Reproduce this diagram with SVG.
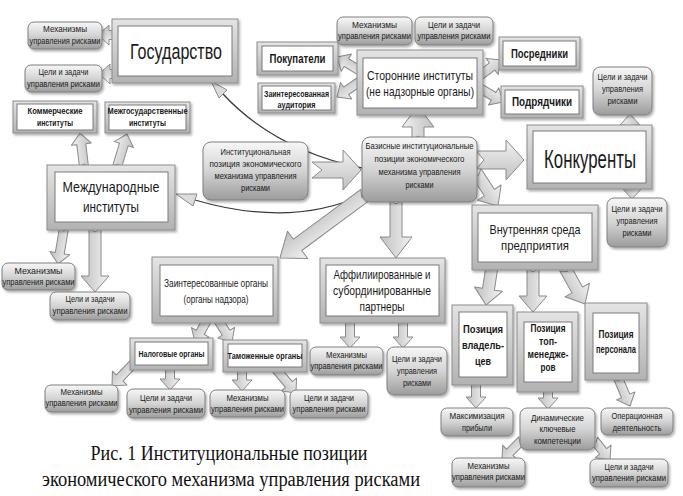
<svg xmlns="http://www.w3.org/2000/svg" width="683" height="496" viewBox="0 0 683 496">
<defs>
<linearGradient id="gf" x1="0" y1="0" x2="0" y2="1"><stop offset="0" stop-color="#e4e4e4"/><stop offset="1" stop-color="#b2b2b2"/></linearGradient>
<linearGradient id="gr" x1="0" y1="0" x2="0" y2="1"><stop offset="0" stop-color="#f7f7f7"/><stop offset="0.5" stop-color="#d4d4d4"/><stop offset="1" stop-color="#9c9c9c"/></linearGradient>
<linearGradient id="ga" x1="0" y1="0" x2="0" y2="1"><stop offset="0" stop-color="#f2f2f2"/><stop offset="1" stop-color="#c0c0c0"/></linearGradient>
<filter id="sh" x="-10%" y="-10%" width="130%" height="140%"><feDropShadow dx="1.5" dy="2" stdDeviation="1.2" flood-color="#000" flood-opacity="0.3"/></filter>
</defs>
<style>
.fo{fill:url(#gf);stroke:#8c8c8c;stroke-width:1;filter:url(#sh)}
.fi{fill:#fff;stroke:#7a7a7a;stroke-width:1}
.rb{fill:url(#gr);stroke:#7f7f7f;stroke-width:1;filter:url(#sh)}
.ar{fill:url(#ga);stroke:#8a8a8a;stroke-width:1;stroke-linejoin:round}
.cv{fill:none;stroke:#3a3a3a;stroke-width:1.3}
.ah{fill:#dcdcdc;stroke:#8a8a8a;stroke-width:1}
text{font-family:"Liberation Sans",Arial,sans-serif;fill:#1a1a1a;text-anchor:middle}
.s{font-size:9px}
.b{font-weight:bold}
.cap{font-family:"Liberation Serif","Times New Roman",serif;font-size:20px;fill:#111}
</style>
<rect width="683" height="496" fill="#fff"/>

<g id="connectors">
<path class="cv" d="M362,168 Q275,150 223,94"/>
<polygon class="ah" points="211,81 227,90 219,98"/>
<path class="cv" d="M363,195 Q290,228 195,200"/>
<polygon class="ah" points="176,194 197,194 193,206"/>

<path class="ar" transform="translate(120,35) rotate(180)" d="M0,-4.5H11V-10L22,0L11,10V4.5H0L3,0Z"/>
<path class="ar" transform="translate(120,74) rotate(180)" d="M0,-4.5H10V-10L21,0L10,10V4.5H0L3,0Z"/>
<path class="ar" transform="translate(84,167) rotate(-96.7)" d="M0,-4.5H23V-10L34,0L23,10V4.5H0L3,0Z"/>
<path class="ar" transform="translate(117,167) rotate(-73.1)" d="M0,-4.5H23.5V-10L34.5,0L23.5,10V4.5H0L3,0Z"/>
<path class="ar" transform="translate(64,228) rotate(99.5)" d="M0,-4.5H25.5V-10L36.5,0L25.5,10V4.5H0L3,0Z"/>
<path class="ar" transform="translate(95,228) rotate(90)" d="M0,-6H48V-14L64,0L48,14V6H0L4,0Z"/>
<path class="ar" transform="translate(362,72) rotate(-149)" d="M0,-4.5H18.2V-10L29.2,0L18.2,10V4.5H0L3,0Z"/>
<path class="ar" transform="translate(362,80) rotate(145.8)" d="M0,-4.5H19.2V-10L30.2,0L19.2,10V4.5H0L3,0Z"/>
<path class="ar" transform="translate(478,77) rotate(-36.5)" d="M0,-4.5H17.6V-10L28.6,0L17.6,10V4.5H0L3,0Z"/>
<path class="ar" transform="translate(478,87) rotate(31)" d="M0,-4.5H18.2V-10L29.2,0L18.2,10V4.5H0L3,0Z"/>
<path class="ar" transform="translate(418,140) rotate(-90)" d="M0,-6H13V-16L34,0L13,16V6H0L4,0Z"/>
<path class="ar" transform="translate(312,170)" d="M0,-8H31V-20L49,0L31,20V8H0L10,0Z"/>
<path class="ar" transform="translate(476,160)" d="M0,-9H30V-20L48,0L30,20V9H0L8,0Z"/>
<path class="ar" transform="translate(476,172) rotate(57.1)" d="M0,-6H24.5V-14L40.5,0L24.5,14V6H0L4,0Z"/>
<path class="ar" transform="translate(365,195) rotate(143.5)" d="M0,-7H83.8V-17L105.8,0L83.8,17V7H0L4,0Z"/>
<path class="ar" transform="translate(396,200) rotate(90)" d="M0,-6H37V-16L58,0L37,16V6H0L4,0Z"/>
<path class="ar" transform="translate(630,132) rotate(-90)" d="M0,-4.5H7V-10L18,0L7,10V4.5H0L3,0Z"/>
<path class="ar" transform="translate(632,183) rotate(90)" d="M0,-4.5H5V-10L16,0L5,10V4.5H0L3,0Z"/>
<path class="ar" transform="translate(492,266) rotate(98.7)" d="M0,-6H23.5V-14L39.5,0L23.5,14V6H0L4,0Z"/>
<path class="ar" transform="translate(533,268) rotate(90)" d="M0,-6H28V-14L44,0L28,14V6H0L4,0Z"/>
<path class="ar" transform="translate(565,268) rotate(60.9)" d="M0,-6H25.2V-14L41.2,0L25.2,14V6H0L4,0Z"/>
<path class="ar" transform="translate(476,380) rotate(90)" d="M0,-4.5H17V-10L28,0L17,10V4.5H0L3,0Z"/>
<path class="ar" transform="translate(548,387) rotate(90)" d="M0,-4.5H11V-10L22,0L11,10V4.5H0L3,0Z"/>
<path class="ar" transform="translate(618,378) rotate(66.8)" d="M0,-4.5H19.5V-10L30.5,0L19.5,10V4.5H0L3,0Z"/>
<path class="ar" transform="translate(522,440) rotate(135)" d="M0,-4.5H17.3V-10L28.3,0L17.3,10V4.5H0L3,0Z"/>
<path class="ar" transform="translate(594,440) rotate(51.3)" d="M0,-4.5H14.6V-10L25.6,0L14.6,10V4.5H0L3,0Z"/>
<path class="ar" transform="translate(207,320) rotate(118.6)" d="M0,-4.5H14.1V-10L25.1,0L14.1,10V4.5H0L3,0Z"/>
<path class="ar" transform="translate(218,320) rotate(57.5)" d="M0,-4.5H15.1V-10L26.1,0L15.1,10V4.5H0L3,0Z"/>
<path class="ar" transform="translate(135,362) rotate(133.8)" d="M0,-4.5H22.2V-10L33.2,0L22.2,10V4.5H0L3,0Z"/>
<path class="ar" transform="translate(170,366) rotate(90)" d="M0,-4.5H13V-10L24,0L13,10V4.5H0L3,0Z"/>
<path class="ar" transform="translate(242,368) rotate(90)" d="M0,-4.5H12V-10L23,0L12,10V4.5H0L3,0Z"/>
<path class="ar" transform="translate(275,368) rotate(50)" d="M0,-4.5H21.6V-10L32.6,0L21.6,10V4.5H0L3,0Z"/>
<path class="ar" transform="translate(350,320) rotate(90)" d="M0,-4.5H17V-10L28,0L17,10V4.5H0L3,0Z"/>
<path class="ar" transform="translate(403,320) rotate(90)" d="M0,-4.5H17V-10L28,0L17,10V4.5H0L3,0Z"/>
</g>

<g id="gosudarstvo"><rect class="fo" x="112" y="19" width="126" height="64"/><rect class="fi" x="118" y="26" width="114" height="50"/>
<text x="176" y="59" font-size="22" textLength="92" lengthAdjust="spacingAndGlyphs">Государство</text></g>
<g id="gos-mech"><rect class="rb" x="28" y="22" width="74" height="27" rx="6"/>
<text class="s" x="65" y="32" textLength="44" lengthAdjust="spacingAndGlyphs">Механизмы</text>
<text class="s" x="65" y="44" textLength="71" lengthAdjust="spacingAndGlyphs">управления рисками</text></g>
<g id="gos-goals"><rect class="rb" x="25" y="65" width="77" height="27" rx="6"/>
<text class="s" x="63.5" y="75" textLength="50" lengthAdjust="spacingAndGlyphs">Цели и задачи</text>
<text class="s" x="63.5" y="87" textLength="73" lengthAdjust="spacingAndGlyphs">управления рисками</text></g>

<g id="kommercheskie"><rect class="fo" x="13" y="101" width="84" height="32"/><rect class="fi" x="17" y="104" width="76" height="26"/>
<text class="s b" x="55" y="114" textLength="55" lengthAdjust="spacingAndGlyphs">Коммерческие</text>
<text class="s b" x="55" y="126" textLength="36" lengthAdjust="spacingAndGlyphs">институты</text></g>
<g id="mezhgos"><rect class="fo" x="105" y="102" width="85" height="31"/><rect class="fi" x="109" y="105" width="77" height="25"/>
<text class="s b" x="147.5" y="114" textLength="80" lengthAdjust="spacingAndGlyphs">Межгосударственные</text>
<text class="s b" x="147.5" y="126" textLength="37" lengthAdjust="spacingAndGlyphs">институты</text></g>

<g id="mezhdunarodnye"><rect class="fo" x="47" y="165" width="128" height="65"/><rect class="fi" x="55" y="172" width="113" height="50"/>
<text x="111" y="192" font-size="15" textLength="97" lengthAdjust="spacingAndGlyphs">Международные</text>
<text x="111" y="212" font-size="15" textLength="56" lengthAdjust="spacingAndGlyphs">институты</text></g>
<g id="mezhd-mech"><rect class="rb" x="2" y="263" width="73" height="27" rx="6"/>
<text class="s" x="38.5" y="274" textLength="48" lengthAdjust="spacingAndGlyphs">Механизмы</text>
<text class="s" x="38.5" y="285" textLength="72" lengthAdjust="spacingAndGlyphs">управления рисками</text></g>
<g id="mezhd-goals"><rect class="rb" x="50" y="292" width="80" height="28" rx="6"/>
<text class="s" x="90" y="302" textLength="49" lengthAdjust="spacingAndGlyphs">Цели и задачи</text>
<text class="s" x="90" y="314" textLength="75" lengthAdjust="spacingAndGlyphs">управления рисками</text></g>

<g id="pokupateli"><rect class="fo" x="257" y="42" width="81" height="33"/><rect class="fi" x="262" y="46" width="71" height="25"/>
<text class="b" x="297.5" y="63" font-size="12" textLength="56" lengthAdjust="spacingAndGlyphs">Покупатели</text></g>
<g id="auditoriya"><rect class="fo" x="258" y="83" width="77" height="30"/><rect class="fi" x="262" y="86" width="69" height="24"/>
<text class="b" x="296.5" y="97" font-size="9.5" textLength="65" lengthAdjust="spacingAndGlyphs">Заинтересованная</text>
<text class="b" x="296.5" y="108" font-size="9.5" textLength="38" lengthAdjust="spacingAndGlyphs">аудитория</text></g>
<g id="storonnie"><rect class="fo" x="357" y="50" width="126" height="65"/><rect class="fi" x="363" y="58" width="114" height="50"/>
<text x="420" y="80" font-size="13" textLength="106" lengthAdjust="spacingAndGlyphs">Сторонние институты</text>
<text x="420" y="96" font-size="13" textLength="108" lengthAdjust="spacingAndGlyphs">(не надзорные органы)</text></g>
<g id="stor-mech"><rect class="rb" x="337" y="17" width="75" height="28" rx="6"/>
<text class="s" x="374.5" y="28" textLength="45" lengthAdjust="spacingAndGlyphs">Механизмы</text>
<text class="s" x="374.5" y="39" textLength="73" lengthAdjust="spacingAndGlyphs">управления рисками</text></g>
<g id="stor-goals"><rect class="rb" x="415" y="17" width="78" height="28" rx="6"/>
<text class="s" x="454" y="28" textLength="52" lengthAdjust="spacingAndGlyphs">Цели и задачи</text>
<text class="s" x="454" y="39" textLength="73" lengthAdjust="spacingAndGlyphs">управления рисками</text></g>
<g id="posredniki"><rect class="fo" x="499" y="37" width="81" height="33"/><rect class="fi" x="503" y="41" width="73" height="25"/>
<text class="b" x="539.5" y="58" font-size="12" textLength="57" lengthAdjust="spacingAndGlyphs">Посредники</text></g>
<g id="podryadchiki"><rect class="fo" x="501" y="86" width="82" height="32"/><rect class="fi" x="505" y="90" width="74" height="24"/>
<text class="b" x="542" y="106" font-size="12" textLength="60" lengthAdjust="spacingAndGlyphs">Подрядчики</text></g>

<g id="konkurenty"><rect class="fo" x="527" y="125" width="125" height="64"/><rect class="fi" x="533" y="131" width="113" height="52"/>
<text x="590" y="168" font-size="25" textLength="92" lengthAdjust="spacingAndGlyphs">Конкуренты</text></g>
<g id="konk-goals-top"><rect class="rb" x="593" y="67" width="59" height="48" rx="7"/>
<text class="s" x="622.5" y="80" textLength="50" lengthAdjust="spacingAndGlyphs">Цели и задачи</text>
<text class="s" x="622.5" y="92" textLength="41" lengthAdjust="spacingAndGlyphs">управления</text>
<text class="s" x="622.5" y="104" textLength="30" lengthAdjust="spacingAndGlyphs">рисками</text></g>
<g id="konk-goals-bottom"><rect class="rb" x="607" y="198" width="60" height="49" rx="7"/>
<text class="s" x="637" y="212" textLength="51" lengthAdjust="spacingAndGlyphs">Цели и задачи</text>
<text class="s" x="637" y="224" textLength="41" lengthAdjust="spacingAndGlyphs">управления</text>
<text class="s" x="637" y="236" textLength="29" lengthAdjust="spacingAndGlyphs">рисками</text></g>

<g id="institucionalnaya"><rect class="rb" x="203" y="142" width="105" height="58" rx="8"/>
<text class="s" x="255.5" y="155" textLength="70" lengthAdjust="spacingAndGlyphs">Институциональная</text>
<text class="s" x="255.5" y="167" textLength="92" lengthAdjust="spacingAndGlyphs">позиция  экономического</text>
<text class="s" x="255.5" y="179" textLength="82" lengthAdjust="spacingAndGlyphs">механизма управления</text>
<text class="s" x="255.5" y="191" textLength="29" lengthAdjust="spacingAndGlyphs">рисками</text></g>
<g id="bazisnye"><rect class="rb" x="362" y="137" width="115" height="65" rx="8"/>
<text class="s" x="419.5" y="149" textLength="108" lengthAdjust="spacingAndGlyphs">Базисные институциональные</text>
<text class="s" x="419.5" y="162" textLength="90" lengthAdjust="spacingAndGlyphs">позиции  экономического</text>
<text class="s" x="419.5" y="175" textLength="82" lengthAdjust="spacingAndGlyphs">механизма управления</text>
<text class="s" x="419.5" y="188" textLength="28" lengthAdjust="spacingAndGlyphs">рисками</text></g>

<g id="zainteresovannye"><rect class="fo" x="152" y="257" width="126" height="66"/><rect class="fi" x="160" y="265" width="113" height="51"/>
<text x="216" y="287" font-size="11.5" textLength="104" lengthAdjust="spacingAndGlyphs">Заинтересованные органы</text>
<text x="216" y="303" font-size="11.5" textLength="65" lengthAdjust="spacingAndGlyphs">(органы надзора)</text></g>
<g id="nalogovye"><rect class="fo" x="130" y="338" width="83" height="32"/><rect class="fi" x="135" y="342" width="73" height="23"/>
<text class="s b" x="171.5" y="357" textLength="66" lengthAdjust="spacingAndGlyphs">Налоговые органы</text></g>
<g id="tamozhennye"><rect class="fo" x="223" y="340" width="84" height="32"/><rect class="fi" x="228" y="344" width="74" height="23"/>
<text class="s b" x="265" y="359" textLength="75" lengthAdjust="spacingAndGlyphs">Таможенные органы</text></g>
<g id="nalog-mech"><rect class="rb" x="45" y="385" width="73" height="27" rx="6"/>
<text class="s" x="81.5" y="395" textLength="42" lengthAdjust="spacingAndGlyphs">Механизмы</text>
<text class="s" x="81.5" y="406" textLength="72" lengthAdjust="spacingAndGlyphs">управления рисками</text></g>
<g id="nalog-goals"><rect class="rb" x="127" y="389" width="78" height="29" rx="6"/>
<text class="s" x="166" y="401" textLength="52" lengthAdjust="spacingAndGlyphs">Цели и задачи</text>
<text class="s" x="166" y="413" textLength="74" lengthAdjust="spacingAndGlyphs">управления рисками</text></g>
<g id="tamozh-mech"><rect class="rb" x="210" y="390" width="75" height="27" rx="6"/>
<text class="s" x="247.5" y="401" textLength="42" lengthAdjust="spacingAndGlyphs">Механизмы</text>
<text class="s" x="247.5" y="412" textLength="73" lengthAdjust="spacingAndGlyphs">управления рисками</text></g>
<g id="tamozh-goals"><rect class="rb" x="290" y="390" width="78" height="28" rx="6"/>
<text class="s" x="329" y="401" textLength="50" lengthAdjust="spacingAndGlyphs">Цели и задачи</text>
<text class="s" x="329" y="412" textLength="73" lengthAdjust="spacingAndGlyphs">управления рисками</text></g>

<g id="affiliirovannye"><rect class="fo" x="320" y="258" width="125" height="65"/><rect class="fi" x="326" y="265" width="113" height="51"/>
<text x="382" y="279" font-size="13" textLength="97" lengthAdjust="spacingAndGlyphs">Аффилиированные и</text>
<text x="382" y="295" font-size="13" textLength="98" lengthAdjust="spacingAndGlyphs">субординированные</text>
<text x="382" y="311" font-size="13" textLength="45" lengthAdjust="spacingAndGlyphs">партнеры</text></g>
<g id="affil-mech"><rect class="rb" x="310" y="347" width="73" height="28" rx="6"/>
<text class="s" x="346.5" y="358" textLength="41" lengthAdjust="spacingAndGlyphs">Механизмы</text>
<text class="s" x="346.5" y="369" textLength="72" lengthAdjust="spacingAndGlyphs">управления рисками</text></g>
<g id="affil-goals"><rect class="rb" x="387" y="347" width="60" height="48" rx="7"/>
<text class="s" x="417" y="362" textLength="50" lengthAdjust="spacingAndGlyphs">Цели и задачи</text>
<text class="s" x="417" y="374" textLength="40" lengthAdjust="spacingAndGlyphs">управления</text>
<text class="s" x="417" y="386" textLength="28" lengthAdjust="spacingAndGlyphs">рисками</text></g>

<g id="vnutrennyaya"><rect class="fo" x="472" y="205" width="126" height="65"/><rect class="fi" x="478" y="213" width="114" height="49"/>
<text x="535" y="234" font-size="13" textLength="91" lengthAdjust="spacingAndGlyphs">Внутренняя среда</text>
<text x="535" y="250" font-size="13" textLength="68" lengthAdjust="spacingAndGlyphs">предприятия</text></g>
<g id="vladelcy"><rect class="fo" x="452" y="305" width="61" height="80"/><rect class="fi" x="459" y="312" width="48" height="65"/>
<text class="b" x="483" y="333" font-size="11" textLength="40" lengthAdjust="spacingAndGlyphs">Позиция</text>
<text class="b" x="483" y="349" font-size="11" textLength="42" lengthAdjust="spacingAndGlyphs">владель-</text>
<text class="b" x="483" y="365" font-size="11" textLength="16" lengthAdjust="spacingAndGlyphs">цев</text></g>
<g id="top-menedzhery"><rect class="fo" x="517" y="312" width="61" height="80"/><rect class="fi" x="524" y="322" width="48" height="60"/>
<text class="b" x="548" y="332" font-size="10" textLength="35" lengthAdjust="spacingAndGlyphs">Позиция</text>
<text class="b" x="548" y="345" font-size="10" textLength="18" lengthAdjust="spacingAndGlyphs">топ-</text>
<text class="b" x="548" y="358" font-size="10" textLength="41" lengthAdjust="spacingAndGlyphs">менедже-</text>
<text class="b" x="548" y="371" font-size="10" textLength="15" lengthAdjust="spacingAndGlyphs">ров</text></g>
<g id="personal"><rect class="fo" x="585" y="303" width="62" height="77"/><rect class="fi" x="593" y="313" width="46" height="60"/>
<text class="b" x="616" y="338" font-size="10" textLength="35" lengthAdjust="spacingAndGlyphs">Позиция</text>
<text class="b" x="616" y="353" font-size="10" textLength="40" lengthAdjust="spacingAndGlyphs">персонала</text></g>
<g id="maksimizaciya"><rect class="rb" x="441" y="408" width="72" height="28" rx="6"/>
<text class="s" x="477" y="419" textLength="55" lengthAdjust="spacingAndGlyphs">Максимизация</text>
<text class="s" x="477" y="431" textLength="30" lengthAdjust="spacingAndGlyphs">прибыли</text></g>
<g id="dinamicheskie"><rect class="rb" x="520" y="408" width="75" height="42" rx="7"/>
<text class="s" x="557.5" y="421" textLength="53" lengthAdjust="spacingAndGlyphs">Динамические</text>
<text class="s" x="557.5" y="432" textLength="36" lengthAdjust="spacingAndGlyphs">ключевые</text>
<text class="s" x="557.5" y="444" textLength="47" lengthAdjust="spacingAndGlyphs">компетенции</text></g>
<g id="operacionnaya"><rect class="rb" x="601" y="408" width="72" height="27" rx="6"/>
<text class="s" x="637" y="419" textLength="51" lengthAdjust="spacingAndGlyphs">Операционная</text>
<text class="s" x="637" y="431" textLength="49" lengthAdjust="spacingAndGlyphs">деятельность</text></g>
<g id="vn-mech"><rect class="rb" x="452" y="458" width="73" height="29" rx="6"/>
<text class="s" x="488.5" y="469" textLength="42" lengthAdjust="spacingAndGlyphs">Механизмы</text>
<text class="s" x="488.5" y="480" textLength="73" lengthAdjust="spacingAndGlyphs">управления рисками</text></g>
<g id="vn-goals"><rect class="rb" x="590" y="459" width="78" height="28" rx="6"/>
<text class="s" x="629" y="470" textLength="49" lengthAdjust="spacingAndGlyphs">Цели и задачи</text>
<text class="s" x="629" y="481" textLength="74" lengthAdjust="spacingAndGlyphs">управления рисками</text></g>

<g id="caption">
<text class="cap" x="229" y="460" textLength="277" lengthAdjust="spacingAndGlyphs">Рис. 1 Институциональные позиции</text>
<text class="cap" x="231" y="486" textLength="378" lengthAdjust="spacingAndGlyphs">экономического механизма управления рисками</text>
</g>
</svg>
